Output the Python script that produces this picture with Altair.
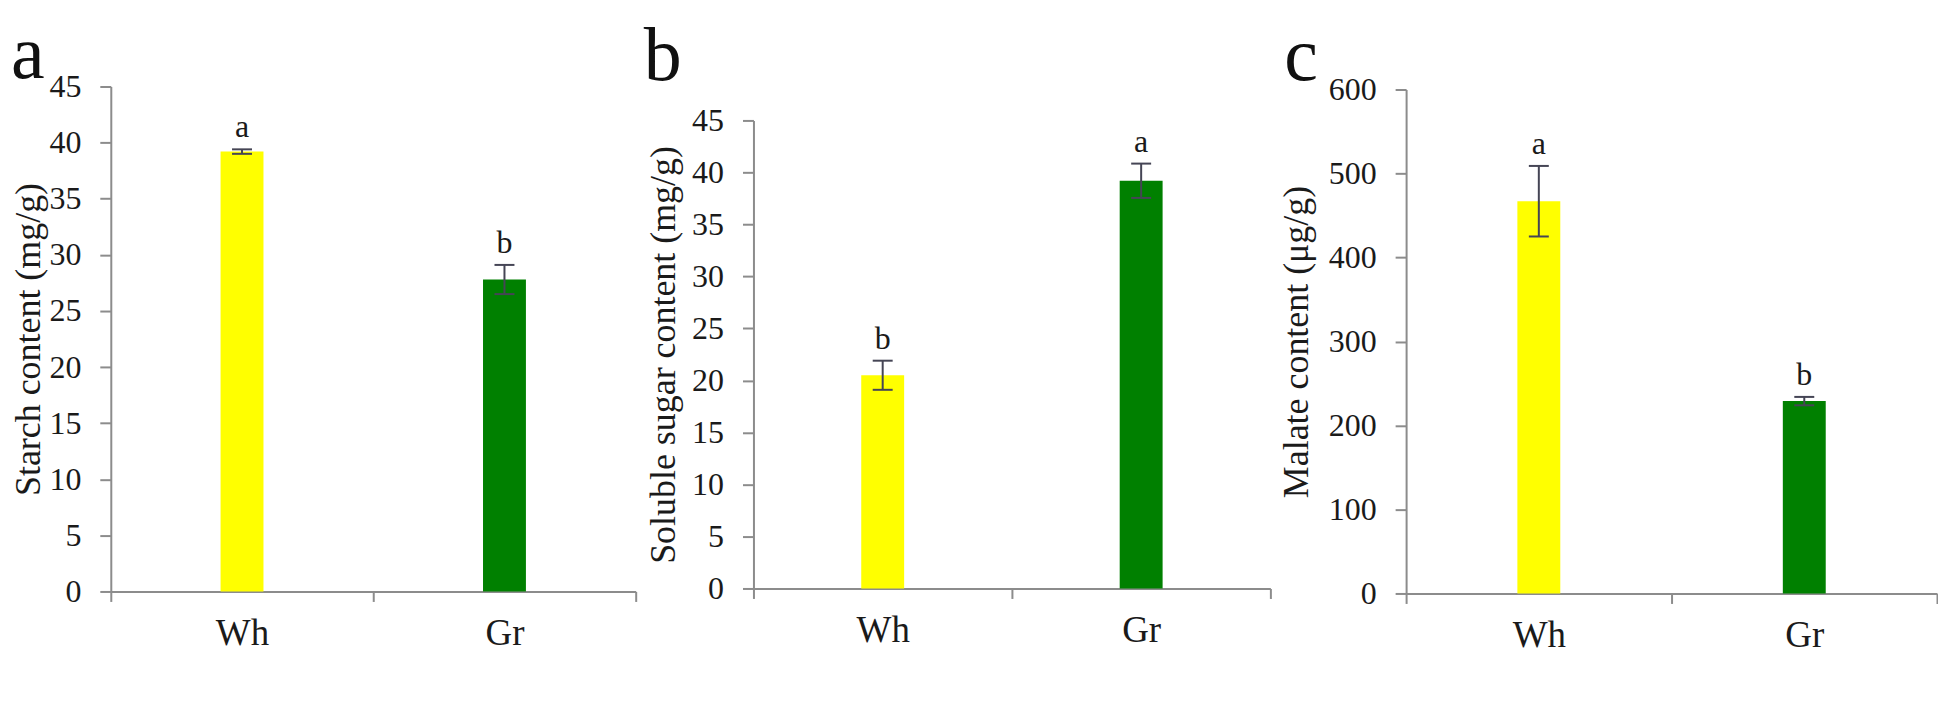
import altair as alt
import pandas as pd

groups = ["Wh", "Gr"]
bar_colors = ["#FFFF00", "#008000"]

starch_mean = [39.2, 27.8]
starch_err = [0.2, 1.3]
starch_sig = ["a", "b"]

sugar_mean = [20.5, 39.2]
sugar_err = [1.4, 1.65]
sugar_sig = ["b", "a"]

malate_mean = [467, 229]
malate_err = [42, 5]
malate_sig = ["a", "b"]

FONT = "Liberation Serif"
AXIS_COLOR = "#8c8c8c"
TEXT_COLOR = "#1a1a1a"
ERR_COLOR = "#454555"


def panel(letter, means, errs, sigs, ytitle, ymax, ystep, width, height,
          y_top, title_offset, title_dx, title_pad):
    df = pd.DataFrame({
        "group": groups,
        "mean": means,
        "lo": [m - e for m, e in zip(means, errs)],
        "hi": [m + e for m, e in zip(means, errs)],
        "sig": sigs,
        "color": bar_colors,
    })
    x_axis = alt.Axis(
        title=None, labelAngle=0, tickBand="extent",
        labelFont=FONT, labelFontSize=37, labelColor=TEXT_COLOR, labelPadding=14,
        tickSize=10, tickWidth=2, tickColor=AXIS_COLOR,
        domainColor=AXIS_COLOR, domainWidth=2, grid=False,
    )
    x = alt.X("group:N", sort=groups,
              scale=alt.Scale(paddingInner=0, paddingOuter=0), axis=x_axis)
    yscale = alt.Scale(domain=[0, ymax], nice=False, zero=True,
                       range=[height, y_top])
    y_axis = alt.Axis(
        title=ytitle, values=list(range(0, ymax + 1, ystep)),
        labelFont=FONT, labelFontSize=32, labelColor=TEXT_COLOR, labelPadding=19,
        titleFont=FONT, titleFontSize=36, titleFontWeight="normal",
        titleColor=TEXT_COLOR, titlePadding=title_pad,
        tickSize=11, tickWidth=2, tickColor=AXIS_COLOR,
        domainColor=AXIS_COLOR, domainWidth=2, grid=False,
    )
    base = alt.Chart(df)
    bars = base.mark_bar(size=43).encode(
        x=x,
        y=alt.Y("mean:Q", scale=yscale, axis=y_axis),
        color=alt.Color("color:N", scale=None),
    )
    rule = base.mark_rule(color=ERR_COLOR, strokeWidth=2).encode(
        x=x,
        y=alt.Y("lo:Q", scale=yscale, axis=y_axis),
        y2="hi:Q",
    )
    cap_lo = base.mark_tick(color=ERR_COLOR, size=20, thickness=2, opacity=1).encode(
        x=x,
        y=alt.Y("lo:Q", scale=yscale, axis=y_axis),
    )
    cap_hi = base.mark_tick(color=ERR_COLOR, size=20, thickness=2, opacity=1).encode(
        x=x,
        y=alt.Y("hi:Q", scale=yscale, axis=y_axis),
    )
    text = base.mark_text(dy=-12, baseline="alphabetic", font=FONT, fontSize=32,
                          color=TEXT_COLOR).encode(
        x=x,
        y=alt.Y("hi:Q", scale=yscale, axis=y_axis),
        text="sig:N",
    )
    return alt.layer(bars, rule, cap_lo, cap_hi, text).properties(
        width=width, height=height,
        title=alt.Title(letter, anchor="start", frame="bounds", fontSize=76,
                        font=FONT, fontWeight="normal", color="#111111",
                        offset=title_offset, dx=title_dx),
    )


pa = panel("a", starch_mean, starch_err, starch_sig, "Starch content (mg/g)",
           45, 5, 526, 506, 0, -23.5, 0, 1)
pb = panel("b", sugar_mean, sugar_err, sugar_sig, "Soluble sugar content (mg/g)",
           45, 5, 518, 503, 34, -9, -2, 9)
pc = panel("c", malate_mean, malate_err, malate_sig, "Malate content (μg/g)",
           600, 100, 532, 508, 3, -22.5, 6, 13)

chart = alt.hconcat(pa, pb, pc, spacing=7).properties(
    padding={"left": 3, "top": 8, "right": 0, "bottom": 0}
).configure_view(stroke=None)

chart.save("out.html", embed_options={"renderer": "svg", "actions": False})
